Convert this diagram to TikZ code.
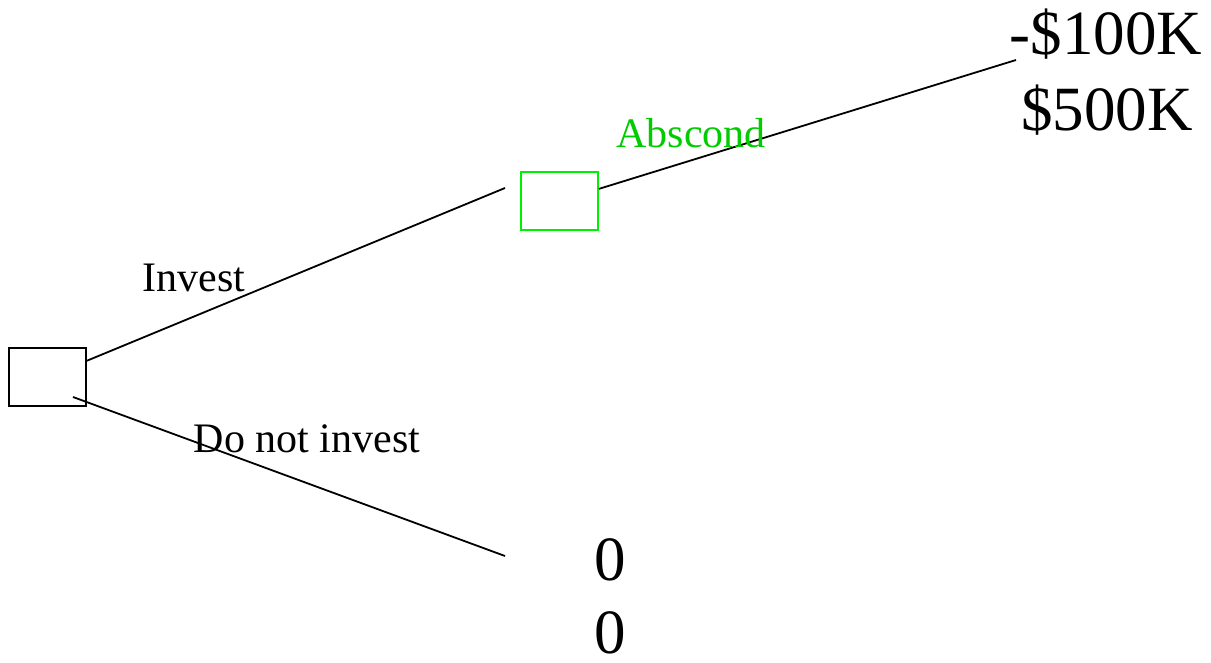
\documentclass[tikz,border=0pt]{standalone}
\usepackage{fontspec}
\setmainfont{Liberation Serif}
\definecolor{chancegreen}{RGB}{0, 240, 0}
\definecolor{labelgreen}{RGB}{0, 204, 0}

\begin{document}
\begin{tikzpicture}[x=1pt, y=-1pt,
    choice/.style={rectangle, draw=#1, line width=1.8pt,
        minimum width=77pt, minimum height=58pt, inner sep=0pt},
    branch/.style={line width=1.8pt, black},
    lbl/.style={anchor=base, font=\fontsize{42}{50}\selectfont, inner sep=0pt},
    payoff/.style={anchor=base, font=\fontsize{63}{76}\selectfont, inner sep=0pt}
]
\useasboundingbox (0,0) rectangle (1211,663);

% Boxes
\node[choice=black] (root) at (47.5, 377) {};
\node[choice=chancegreen] (abscond) at (559.5, 201) {};

% Branch end points
\coordinate (invest-end) at (505, 188);
\coordinate (noinv-start) at (73, 397);
\coordinate (noinv-end) at (505, 556);
\coordinate (abscond-end) at (1016, 60);

% Branches
\draw[branch] (root) -- (invest-end);
\draw[branch] (noinv-start) -- (noinv-end);
\draw[branch] (abscond) -- (abscond-end);

% Branch labels
\node[lbl] (invest-lbl) at (194, 291) {Invest};
\node[lbl] (noinv-lbl) at (307, 452) {Do not invest};
\node[lbl, text=labelgreen] (abscond-lbl) at (691, 148) {Abscond};

% Payoffs
\node[payoff] (pay1) at (1106, 55) {-\$100K};
\node[payoff] (pay2) at (1107, 131) {\$500K};
\node[payoff] (pay3) at (610, 580) {0};
\node[payoff] (pay4) at (610, 653) {0};

\end{tikzpicture}
\end{document}
